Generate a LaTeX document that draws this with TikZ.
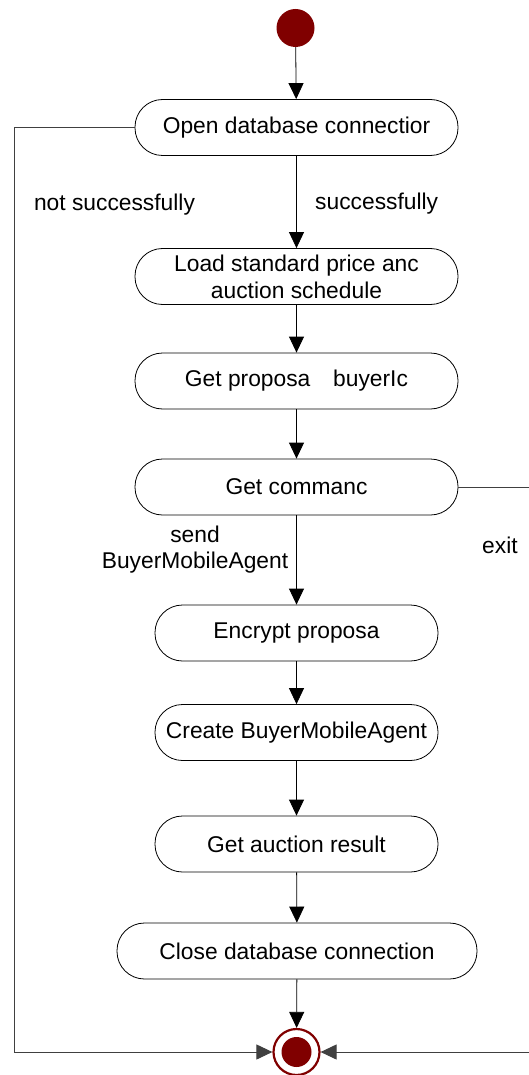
\documentclass[tikz,border=0pt]{standalone}
\usepackage{fontspec}
\setmainfont{Liberation Sans}
\usetikzlibrary{arrows.meta}
\definecolor{endred}{HTML}{800000}
\begin{document}
\begin{tikzpicture}[x=1pt,y=-1pt,
  act/.style={draw, rounded corners=27.5pt, minimum height=56pt, inner sep=0pt, line width=0.8pt,
    font=\fontsize{22.8}{27}\selectfont, align=center},
  flow/.style={-{Triangle[width=15pt,length=16pt]}, line width=0.8pt},
  loopline/.style={-{Triangle[width=15pt,length=16pt]}, line width=1pt, draw=black!75},
  lbl/.style={font=\fontsize{22.8}{26}\selectfont, align=center, inner sep=0pt}]
\useasboundingbox (0,0) rectangle (528,1075);
\node[circle, fill=endred, minimum size=38pt, inner sep=0pt] (start) at (295.5,28) {};
\node[act, minimum width=323pt] (open) at (296.5,127.5) {Open database connectior};
\node[act, minimum width=323pt] (load) at (296.5,276.5) {Load standard price anc\\auction schedule};
\node[act, minimum width=323pt] (prop) at (296.5,381) {Get proposa\quad buyerIc};
\node[act, minimum width=323pt] (cmd) at (296.5,487) {Get commanc};
\node[act, minimum width=283pt] (enc) at (296.5,633) {Encrypt proposa};
\node[act, minimum width=283pt] (create) at (296.5,732.5) {Create BuyerMobileAgent};
\node[act, minimum width=283pt] (result) at (296.5,844) {Get auction result};
\node[act, minimum width=360pt] (close) at (297,951) {Close database connection};
\node[circle, draw=endred, line width=2.2pt, fill=white, minimum size=46pt, inner sep=0pt] (end) at (296.5,1052) {};
\fill[endred] (end.center) circle (15pt);

\node[lbl] (notok) at (114.5,205) {not successfully};
\node[lbl, anchor=west] (ok) at (315,204) {successfully};
\node[lbl] (send) at (195,550) {send\\BuyerMobileAgent};
\node[lbl, anchor=west] (exit) at (482,545) {exit};

\draw[flow] (start) -- (open);
\draw[flow] (open) -- (load);
\draw[flow] (load) -- (prop);
\draw[flow] (prop) -- (cmd);
\draw[flow] (cmd) -- (enc);
\draw[flow] (enc) -- (create);
\draw[flow] (create) -- (result);
\draw[flow] (result) -- (close);
\draw[flow] (close) -- (end);
\coordinate (lt) at (14,127.5);
\coordinate (lb) at (14,1052);
\coordinate (rt) at (540,487);
\coordinate (rb) at (540,1052);
\draw[loopline] (open.west) -- (lt) -- (lb) -- (end.west);
\draw[loopline] (cmd.east) -- (rt) -- (rb) -- (end.east);
\end{tikzpicture}
\end{document}
